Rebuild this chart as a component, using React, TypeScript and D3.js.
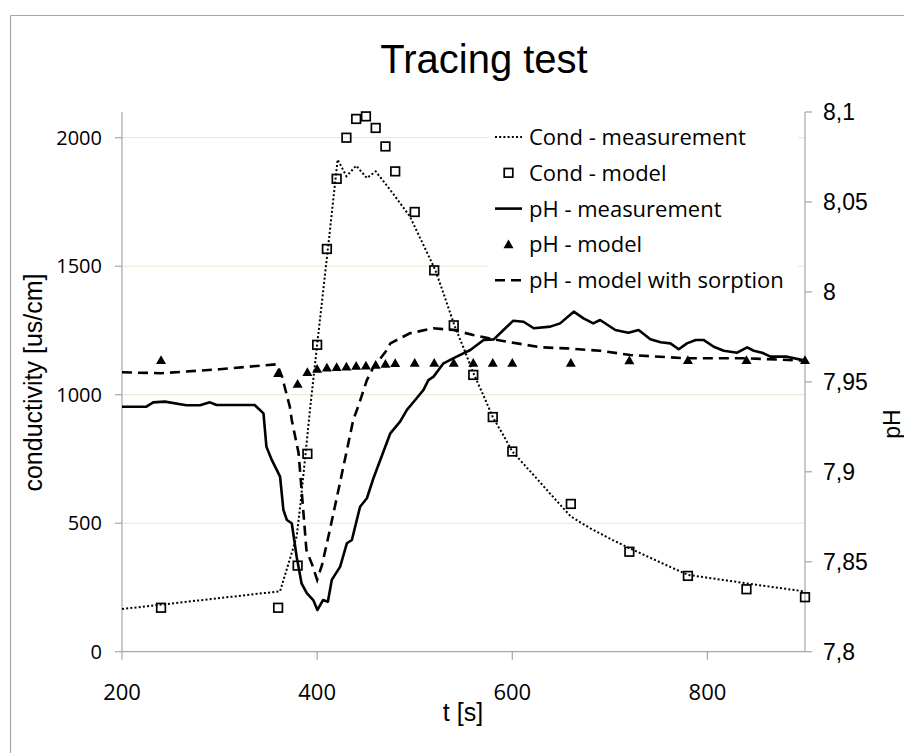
import React from "react";
import * as d3 from "d3";

// ---- Data ----
const condMeasT = [200, 362, 370, 379, 383, 393, 400, 411, 421, 430, 440, 451, 460, 470, 480, 495, 510, 521, 530, 541, 550, 560, 570, 580, 590, 600, 620, 640, 660, 680, 700, 720, 740, 760, 780, 800, 820, 840, 860, 880, 900];
const condMeasV = [166, 235, 335, 448, 579, 954, 1194, 1567, 1915, 1850, 1891, 1843, 1869, 1821, 1771, 1694, 1574, 1486, 1389, 1266, 1183, 1085, 1001, 913, 848, 779, 695, 610, 526, 480, 440, 403, 368, 333, 299, 288, 277, 266, 255, 245, 234];

const condModelT = [240, 360, 380, 390, 400, 410, 420, 430, 440, 450, 460, 470, 480, 500, 520, 540, 560, 580, 600, 660, 720, 780, 840, 900];
const condModelV = [171, 171, 335, 770, 1194, 1567, 1840, 2000, 2073, 2083, 2038, 1966, 1869, 1711, 1484, 1270, 1077, 913, 779, 575, 389, 295, 243, 212];

const phMeasT = [200, 225, 232, 244, 266, 280, 290, 297, 336, 345, 348, 353.5, 362, 365.4, 369, 374, 379, 384, 389.4, 396, 400.3, 406, 411, 415, 423.6, 430.5, 435.6, 444, 451, 457.7, 475, 485, 492, 500.5, 509, 514, 519.3, 529.5, 543, 557, 570.6, 581, 591, 601, 611.6, 622, 639, 649, 663, 673, 683, 690, 705.6, 719, 729.5, 741.5, 752, 762, 770.6, 779, 788, 796, 806.5, 816.7, 830.5, 840.7, 847.5, 856, 864.6, 881.7, 900];
const phMeasV = [7.9362, 7.9362, 7.9386, 7.939, 7.937, 7.937, 7.9386, 7.9371, 7.9371, 7.9325, 7.914, 7.9066, 7.8973, 7.8788, 7.8732, 7.8714, 7.8528, 7.838, 7.8325, 7.8287, 7.8232, 7.8287, 7.8278, 7.8399, 7.8473, 7.8603, 7.8621, 7.8806, 7.8853, 7.8964, 7.9214, 7.9279, 7.9344, 7.9399, 7.9455, 7.951, 7.9529, 7.9603, 7.964, 7.9677, 7.9733, 7.9736, 7.9788, 7.984, 7.9834, 7.9798, 7.9807, 7.9825, 7.989, 7.9853, 7.9825, 7.9844, 7.9788, 7.9773, 7.9788, 7.9737, 7.972, 7.9714, 7.9681, 7.9714, 7.9733, 7.9733, 7.9695, 7.9673, 7.9662, 7.9692, 7.9673, 7.9662, 7.964, 7.964, 7.9618];

const phModelT = [240, 360, 380, 390, 400, 410, 420, 430, 440, 450, 460, 470, 480, 500, 520, 540, 560, 580, 600, 660, 720, 780, 840, 900];
const phModelV = [7.962, 7.9548, 7.9488, 7.9553, 7.9571, 7.9579, 7.9581, 7.9584, 7.9588, 7.959, 7.9594, 7.9599, 7.9603, 7.9605, 7.9605, 7.9605, 7.9605, 7.9605, 7.9605, 7.9605, 7.9618, 7.962, 7.962, 7.962];

const phSorpT = [200, 240, 300, 359, 364, 372, 374, 381, 386, 389, 395, 400, 405, 413, 424, 437, 442, 451, 458, 461, 471.5, 475, 485, 495, 519, 540, 560, 581, 605, 629, 656, 690, 721, 779, 840, 900];
const phSorpV = [7.9553, 7.9548, 7.957, 7.9598, 7.9529, 7.9362, 7.9288, 7.9103, 7.8769, 7.8565, 7.8482, 7.8399, 7.8482, 7.8676, 7.8954, 7.9288, 7.9362, 7.951, 7.9584, 7.9603, 7.9677, 7.9714, 7.9742, 7.977, 7.9798, 7.9788, 7.976, 7.9736, 7.9714, 7.9692, 7.9686, 7.9673, 7.9649, 7.9631, 7.9631, 7.9618];

const xTicks = [200, 400, 600, 800];
const yLeftTicks = [0, 500, 1000, 1500, 2000];
const yRightTicks = [7.8, 7.85, 7.9, 7.95, 8, 8.05, 8.1];
const yRightLabels = ["7,8", "7,85", "7,9", "7,95", "8", "8,05", "8,1"];
const legendLabels = ["Cond - measurement", "Cond - model", "pH - measurement", "pH - model", "pH - model with sorption"];

export default function App() {
  const L = 122, R = 805, T = 112, B = 651.7;
  const x = d3.scaleLinear().domain([200, 900]).range([L, R]);
  const yL = d3.scaleLinear().domain([0, 2100]).range([B, T]);
  const yR = d3.scaleLinear().domain([7.8, 8.1]).range([B, T]);

  const mk = (ts: number[], vs: number[], ys: d3.ScaleLinear<number, number>) =>
    d3.line<number>().x((t) => x(t)).y((_, i) => ys(vs[i]))(ts) || "";

  const axisColor = "#a6a6a6";
  const gridColor = "#efe5cb";
  const sans = "'Liberation Sans', Arial, sans-serif";
  const calib = "'Open Sans', 'Noto Sans', sans-serif";

  const legX1 = 495, legX2 = 522, legTx = 529;
  const legY = legendLabels.map((_, i) => 137 + i * 35.8);

  const tri = (cx: number, cy: number, s = 5) =>
    `M${cx},${cy - s} L${cx + s},${cy + s * 0.75} L${cx - s},${cy + s * 0.75} Z`;

  return (
    <svg width={904} height={753} style={{ position: "absolute", left: 0, top: 0, background: "#fff" }}>
      <rect x={0} y={0} width={904} height={753} fill="#fff" />
      {/* chart border */}
      <line x1={10.5} y1={15.5} x2={904} y2={15.5} stroke={axisColor} strokeWidth={1.2} />
      <line x1={10.5} y1={15.5} x2={10.5} y2={753} stroke={axisColor} strokeWidth={1.2} />

      {/* title */}
      <text x={484} y={73} textAnchor="middle" fontFamily={sans} fontSize={40} fill="#000">Tracing test</text>

      {/* gridlines */}
      {yLeftTicks.filter((v) => v > 0).map((v) => (
        <line key={v} x1={L} x2={R} y1={yL(v)} y2={yL(v)} stroke={gridColor} strokeWidth={1} />
      ))}

      {/* axes */}
      <line x1={L} x2={L} y1={T} y2={B} stroke={axisColor} strokeWidth={1.2} />
      <line x1={R} x2={R} y1={T} y2={B} stroke={axisColor} strokeWidth={1.2} />
      <line x1={L} x2={R} y1={B} y2={B} stroke={axisColor} strokeWidth={1.2} />
      {yLeftTicks.map((v) => (
        <g key={v}>
          <line x1={L - 7} x2={L} y1={yL(v)} y2={yL(v)} stroke={axisColor} strokeWidth={1.2} />
          <text x={102} y={yL(v) + 7} textAnchor="end" fontFamily={calib} fontSize={20} fill="#000">{v}</text>
        </g>
      ))}
      {yRightTicks.map((v, i) => (
        <g key={v}>
          <line x1={R} x2={R + 7} y1={yR(v)} y2={yR(v)} stroke={axisColor} strokeWidth={1.2} />
          <text x={823} y={yR(v) + 8.3} textAnchor="start" fontFamily={sans} fontSize={23} fill="#000">{yRightLabels[i]}</text>
        </g>
      ))}
      {xTicks.map((v) => (
        <g key={v}>
          <line x1={x(v)} x2={x(v)} y1={B} y2={B + 8} stroke={axisColor} strokeWidth={1.2} />
          <text x={x(v)} y={700} textAnchor="middle" fontFamily={calib} fontSize={22} fill="#000">{v}</text>
        </g>
      ))}

      {/* axis titles */}
      <text x={463} y={721} textAnchor="middle" fontFamily={sans} fontSize={25} fill="#000">t [s]</text>
      <text transform="translate(41.5,382.5) rotate(-90)" textAnchor="middle" fontFamily={sans} fontSize={25} fill="#000">conductivity [us/cm]</text>
      <text transform="translate(900,424) rotate(-90)" textAnchor="middle" fontFamily={sans} fontSize={23} fill="#000">pH</text>

      {/* series */}
      <path d={mk(condMeasT, condMeasV, yL)} fill="none" stroke="#000" strokeWidth={2} strokeDasharray="2 2.2" />
      {condModelT.map((t, i) => (
        <rect key={t} x={x(t) - 4.3} y={yL(condModelV[i]) - 4.3} width={8.6} height={8.6} fill="none" stroke="#000" strokeWidth={1.7} />
      ))}
      <path d={mk(phMeasT, phMeasV, yR)} fill="none" stroke="#000" strokeWidth={2.6} strokeLinejoin="round" />
      {phModelT.map((t, i) => (
        <path key={t} d={tri(x(t), yR(phModelV[i]))} fill="#000" />
      ))}
      <path d={mk(phSorpT, phSorpV, yR)} fill="none" stroke="#000" strokeWidth={2.6} strokeDasharray="10 6" />

      {/* legend */}
      <rect x={488} y={118} width={310} height={178} fill="#fff" />
      <line x1={legX1} x2={legX2} y1={legY[0]} y2={legY[0]} stroke="#000" strokeWidth={2} strokeDasharray="2 2.2" />
      <rect x={(legX1 + legX2) / 2 - 4.3} y={legY[1] - 4.3} width={8.6} height={8.6} fill="none" stroke="#000" strokeWidth={1.7} />
      <line x1={legX1} x2={legX2} y1={legY[2]} y2={legY[2]} stroke="#000" strokeWidth={2.6} />
      <path d={tri((legX1 + legX2) / 2, legY[3])} fill="#000" />
      <line x1={legX1} x2={legX2 + 2} y1={legY[4]} y2={legY[4]} stroke="#000" strokeWidth={2.6} strokeDasharray="10 6" />
      {legendLabels.map((s, i) => (
        <text key={s} x={legTx} y={legY[i] + 8} fontFamily={calib} fontSize={22} fill="#000">{s}</text>
      ))}
    </svg>
  );
}
